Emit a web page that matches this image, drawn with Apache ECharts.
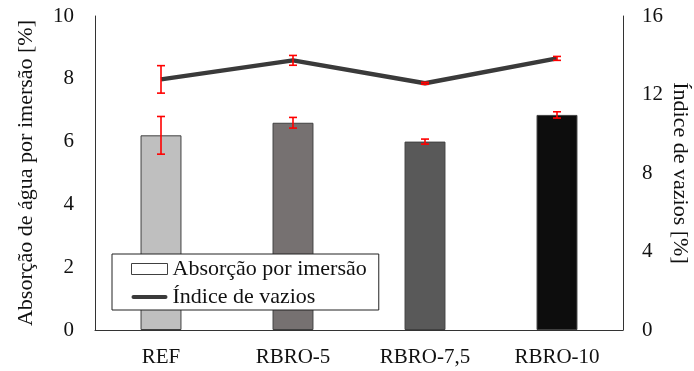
<!DOCTYPE html>
<html>
<head>
<meta charset="utf-8">
<script src="https://cdn.jsdelivr.net/npm/echarts@6/dist/echarts.min.js"></script>
<style>
  html, body { margin: 0; padding: 0; background: #fff; }
  #chart { width: 694px; height: 371px; }
</style>
</head>
<body>
<div id="chart"></div>
<script>
// Mixtures
const categories = ['REF', 'RBRO-5', 'RBRO-7,5', 'RBRO-10'];

// Water absorption by immersion [%] (bars, left axis) and its deviation
const absorption = [6.2, 6.6, 6.0, 6.85];
const absorptionDev = [0.6, 0.17, 0.08, 0.1];

// Void index [%] (line, right axis) and its deviation
const voids = [12.77, 13.74, 12.57, 13.84];
const voidsDev = [0.7, 0.25, 0.05, 0.1];

// Fill colour of each bar
const barColors = ['#bfbfbf', '#767171', '#595959', '#0d0d0d'];

const FONT = '"Liberation Serif", "Times New Roman", serif';
const TEXT = '#111';

const errRange = (vals, devs) => vals.map((v, i) => [i, v - devs[i], v + devs[i]]);

function renderError(params, api) {
  const x = api.value(0);
  const lo = api.coord([x, api.value(1)]);
  const hi = api.coord([x, api.value(2)]);
  const cap = 4;
  const style = { stroke: '#ff0000', lineWidth: 1.6 };
  return {
    type: 'group',
    children: [
      { type: 'line', shape: { x1: hi[0], y1: hi[1], x2: lo[0], y2: lo[1] }, style },
      { type: 'line', shape: { x1: hi[0] - cap, y1: hi[1], x2: hi[0] + cap, y2: hi[1] }, style },
      { type: 'line', shape: { x1: lo[0] - cap, y1: lo[1], x2: lo[0] + cap, y2: lo[1] }, style }
    ]
  };
}

const chart = echarts.init(document.getElementById('chart'));
chart.setOption({
  animation: false,
  backgroundColor: '#fff',
  textStyle: { fontFamily: FONT },
  grid: { left: 95, right: 71, top: 16, bottom: 41, outerBoundsMode: 'none', containLabel: false },
  legend: {
    left: 112,
    top: 254,
    orient: 'vertical',
    backgroundColor: '#fff',
    borderColor: '#222',
    borderWidth: 1,
    borderRadius: 0,
    padding: [4, 12, 2, 19],
    itemGap: 6,
    itemWidth: 36,
    itemHeight: 11,
    textStyle: { fontFamily: FONT, fontSize: 22, color: TEXT },
    data: [
      { name: 'Absorção por imersão', icon: 'rect',
        itemStyle: { color: '#fff', borderColor: '#404040', borderWidth: 1 } },
      { name: 'Índice de vazios', icon: 'path://M2,0 L34,0 A2,2 0 0 1 34,4 L2,4 A2,2 0 0 1 2,0 Z',
        itemStyle: { color: '#3a3a3a', borderWidth: 0 } }
    ]
  },
  xAxis: {
    type: 'category',
    data: categories,
    axisLine: { lineStyle: { color: '#333', width: 1 } },
    axisTick: { show: false },
    axisLabel: { fontFamily: FONT, fontSize: 21, color: TEXT, margin: 17 }
  },
  yAxis: [
    {
      type: 'value', min: 0, max: 10, interval: 2,
      name: 'Absorção de água por imersão [%]',
      nameLocation: 'middle', nameGap: 58, nameRotate: 90, nameMoveOverlap: false,
      nameTextStyle: { fontFamily: FONT, fontSize: 22, color: TEXT },
      axisLine: { show: true, lineStyle: { color: '#333', width: 1 } },
      axisTick: { show: false },
      splitLine: { show: false },
      axisLabel: { fontFamily: FONT, fontSize: 21, color: TEXT, margin: 21 }
    },
    {
      type: 'value', min: 0, max: 16, interval: 4,
      name: 'Índice de vazios [%]',
      nameLocation: 'middle', nameGap: 46, nameRotate: -90, nameMoveOverlap: false,
      nameTextStyle: { fontFamily: FONT, fontSize: 22, color: TEXT },
      axisLine: { show: true, lineStyle: { color: '#333', width: 1 } },
      axisTick: { show: false },
      splitLine: { show: false },
      axisLabel: { fontFamily: FONT, fontSize: 21, color: TEXT, margin: 19 }
    }
  ],
  series: [
    {
      name: 'Absorção por imersão',
      type: 'bar',
      yAxisIndex: 0,
      barWidth: '31%',
      itemStyle: { color: '#fff', borderColor: '#404040', borderWidth: 1 },
      data: absorption.map((v, i) => ({ value: v, itemStyle: { color: barColors[i] } })),
      z: 2
    },
    {
      name: 'Índice de vazios',
      type: 'line',
      yAxisIndex: 1,
      symbol: 'none',
      data: voids,
      lineStyle: { color: '#3a3a3a', width: 4.5 },
      itemStyle: { color: '#3a3a3a' },
      z: 3
    },
    {
      type: 'custom',
      yAxisIndex: 0,
      renderItem: renderError,
      encode: { x: 0, y: [1, 2] },
      data: errRange(absorption, absorptionDev),
      z: 4
    },
    {
      type: 'custom',
      yAxisIndex: 1,
      renderItem: renderError,
      encode: { x: 0, y: [1, 2] },
      data: errRange(voids, voidsDev),
      z: 4
    }
  ]
});
</script>
</body>
</html>
